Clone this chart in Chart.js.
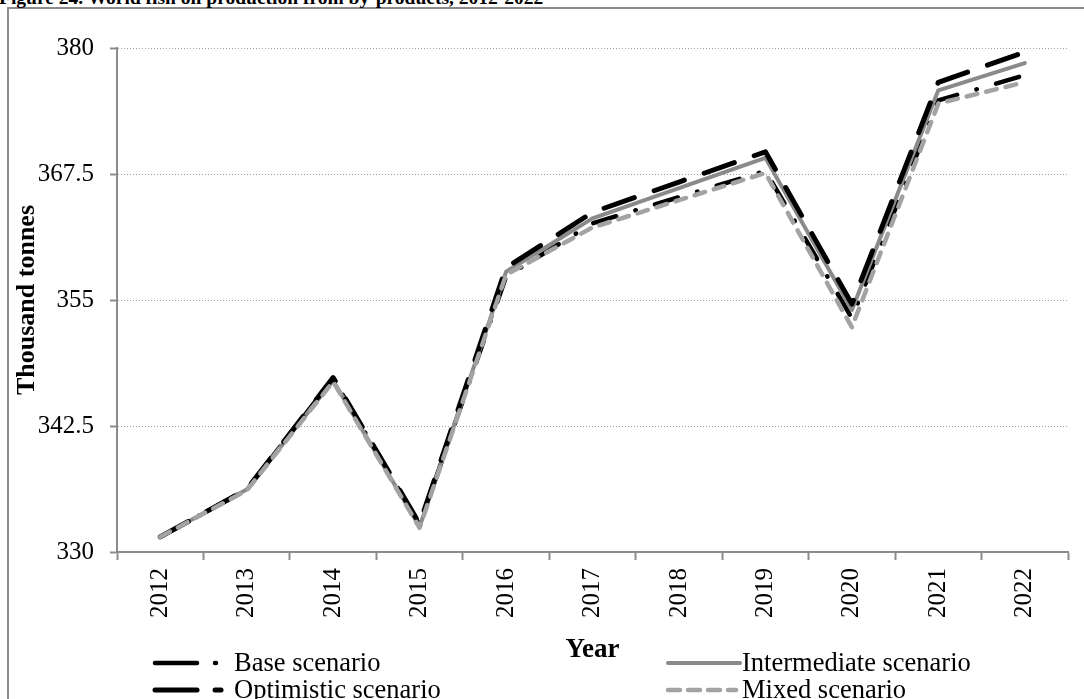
<!DOCTYPE html>
<html>
<head>
<meta charset="utf-8">
<script src="https://cdn.jsdelivr.net/npm/chart.js@4.4.1/dist/chart.umd.min.js"></script>
<style>
    html, body { margin: 0; padding: 0; background: #fff; overflow: hidden; }
    #wrap  { position: relative; width: 1084px; height: 699px; }
    #frame { position: absolute; left: 7px; top: 7px; width: 1200px; height: 800px;
             border-left: 2px solid #8c8c8c; border-top: 2px solid #8c8c8c; }
    #title { position: absolute; left: -1px; top: -13px; white-space: nowrap;
             font: bold 19.5px "Liberation Serif", serif; color: #000; }
    canvas { position: absolute; left: 0; top: 0; }
</style>
</head>
<body>
<div id="wrap">
    <div id="frame"></div>
    <div id="title">Figure 24. World fish oil production from by-products, 2012-2022</div>
    <canvas id="chart" width="1084" height="699"></canvas>
</div>
<script>
// ── Data ──────────────────────────────────────────────────────────────────────

const years        = ["2012","2013","2014","2015","2016","2017","2018","2019","2020","2021","2022"];
const base         = [331.5, 336.2, 347.2, 332.7, 357.3, 362.6, 365.2, 367.8, 353.2, 374.8, 377.3];
const intermediate = [331.5, 336.2, 347.0, 332.5, 357.8, 363.1, 366.1, 369.1, 354.0, 375.8, 378.5];
const optimistic   = [331.5, 336.2, 347.3, 332.8, 358.2, 363.7, 366.7, 369.7, 354.6, 376.6, 379.6];
const mixed        = [331.5, 336.1, 346.9, 332.4, 357.5, 362.2, 364.9, 367.6, 352.3, 374.5, 376.6];
const yTicks       = [330, 342.5, 355, 367.5, 380];

const seriesNames  = ["Base scenario", "Intermediate scenario", "Optimistic scenario", "Mixed scenario"];

// ── Styles ────────────────────────────────────────────────────────────────────

const SERIF  = '"Liberation Serif", "Times New Roman", serif';
const AXIS   = "#8c8c8c";
const GRID   = "#9c9c9c";

const styles = [
    { color: "#000000", width: 4.5, dash: [24, 20, 0.5, 20], order: 3 },
    { color: "#8a8a8a", width: 4,   dash: [],                order: 2 },
    { color: "#000000", width: 5,   dash: [32, 21],          order: 1 },
    { color: "#a3a3a3", width: 4.5, dash: [11, 9],           order: 0 }
];

// legend sample segments [from, to] relative to the sample start
const legendItems = [
    { x: 155, y: 663, segs: [[0, 42], [60, 61]],                      text: 79 },
    { x: 668, y: 663, segs: [[0, 72]],                                text: 74 },
    { x: 155, y: 690, segs: [[0, 42], [60, 66]],                      text: 79 },
    { x: 668, y: 690, segs: [[0, 12], [20, 32], [40, 52], [60, 68]],  text: 74 }
];

const customLegend = {
    id: "customLegend",
    afterDraw(chart) {
        const ctx = chart.ctx;
        ctx.save();
        legendItems.forEach((item, i) => {
            const st = styles[i];
            ctx.strokeStyle = st.color;
            ctx.lineWidth   = st.width;
            ctx.lineCap     = "round";
            ctx.setLineDash([]);
            item.segs.forEach(([a, b]) => {
                ctx.beginPath();
                ctx.moveTo(item.x + a, item.y);
                ctx.lineTo(item.x + b, item.y);
                ctx.stroke();
            });
            ctx.fillStyle    = "#000";
            ctx.font         = `26.5px ${SERIF}`;
            ctx.textBaseline = "middle";
            ctx.textAlign    = "left";
            ctx.fillText(seriesNames[i], item.x + item.text, item.y + 1);
        });
        ctx.restore();
    }
};

const datasets = [base, intermediate, optimistic, mixed].map((vals, i) => ({
    label: seriesNames[i],
    data: vals,
    borderColor: styles[i].color,
    borderWidth: styles[i].width,
    borderDash: styles[i].dash,
    borderCapStyle: "round",
    borderJoinStyle: "round",
    pointRadius: 0,
    fill: false,
    tension: 0,
    order: styles[i].order
}));

new Chart(document.getElementById("chart"), {
    type: "line",
    data: { labels: years, datasets },
    plugins: [customLegend],
    options: {
        responsive: false,
        animation: false,
        devicePixelRatio: 1,
        layout: { padding: { left: 0, top: 48, right: 16, bottom: 0 } },
        plugins: {
            legend:  { display: false },
            title:   { display: false },
            tooltip: { enabled: false }
        },
        scales: {
            x: {
                offset: true,
                grid: {
                    offset: true,
                    drawOnChartArea: false,
                    drawTicks: true,
                    tickLength: 8,
                    tickColor: AXIS,
                    tickWidth: 2
                },
                border: { color: AXIS, width: 2 },
                ticks: {
                    color: "#000",
                    font: { family: SERIF, size: 25 },
                    maxRotation: 90,
                    minRotation: 90,
                    padding: 8,
                    autoSkip: false
                },
                title: {
                    display: true,
                    text: "Year",
                    color: "#000",
                    font: { family: SERIF, size: 27, weight: "bold" },
                    padding: { top: 0, bottom: 33 }
                },
                afterFit: s => { s.height = 147; }
            },
            y: {
                min: 330,
                max: 380,
                afterBuildTicks: s => { s.ticks = yTicks.map(v => ({ value: v })); },
                grid: {
                    color: GRID,
                    lineWidth: 1,
                    tickBorderDash: [],
                    tickLength: 7,
                    tickColor: AXIS,
                    tickWidth: 2
                },
                border: { color: AXIS, width: 2, dash: [1, 2] },
                ticks: {
                    color: "#000",
                    font: { family: SERIF, size: 25 },
                    padding: 16
                },
                title: {
                    display: true,
                    text: "Thousand tonnes",
                    color: "#000",
                    font: { family: SERIF, size: 26, weight: "bold" },
                    padding: { top: 12, bottom: 0 }
                },
                afterFit: s => { s.width = 117; }
            }
        }
    }
});
</script>
</body>
</html>
